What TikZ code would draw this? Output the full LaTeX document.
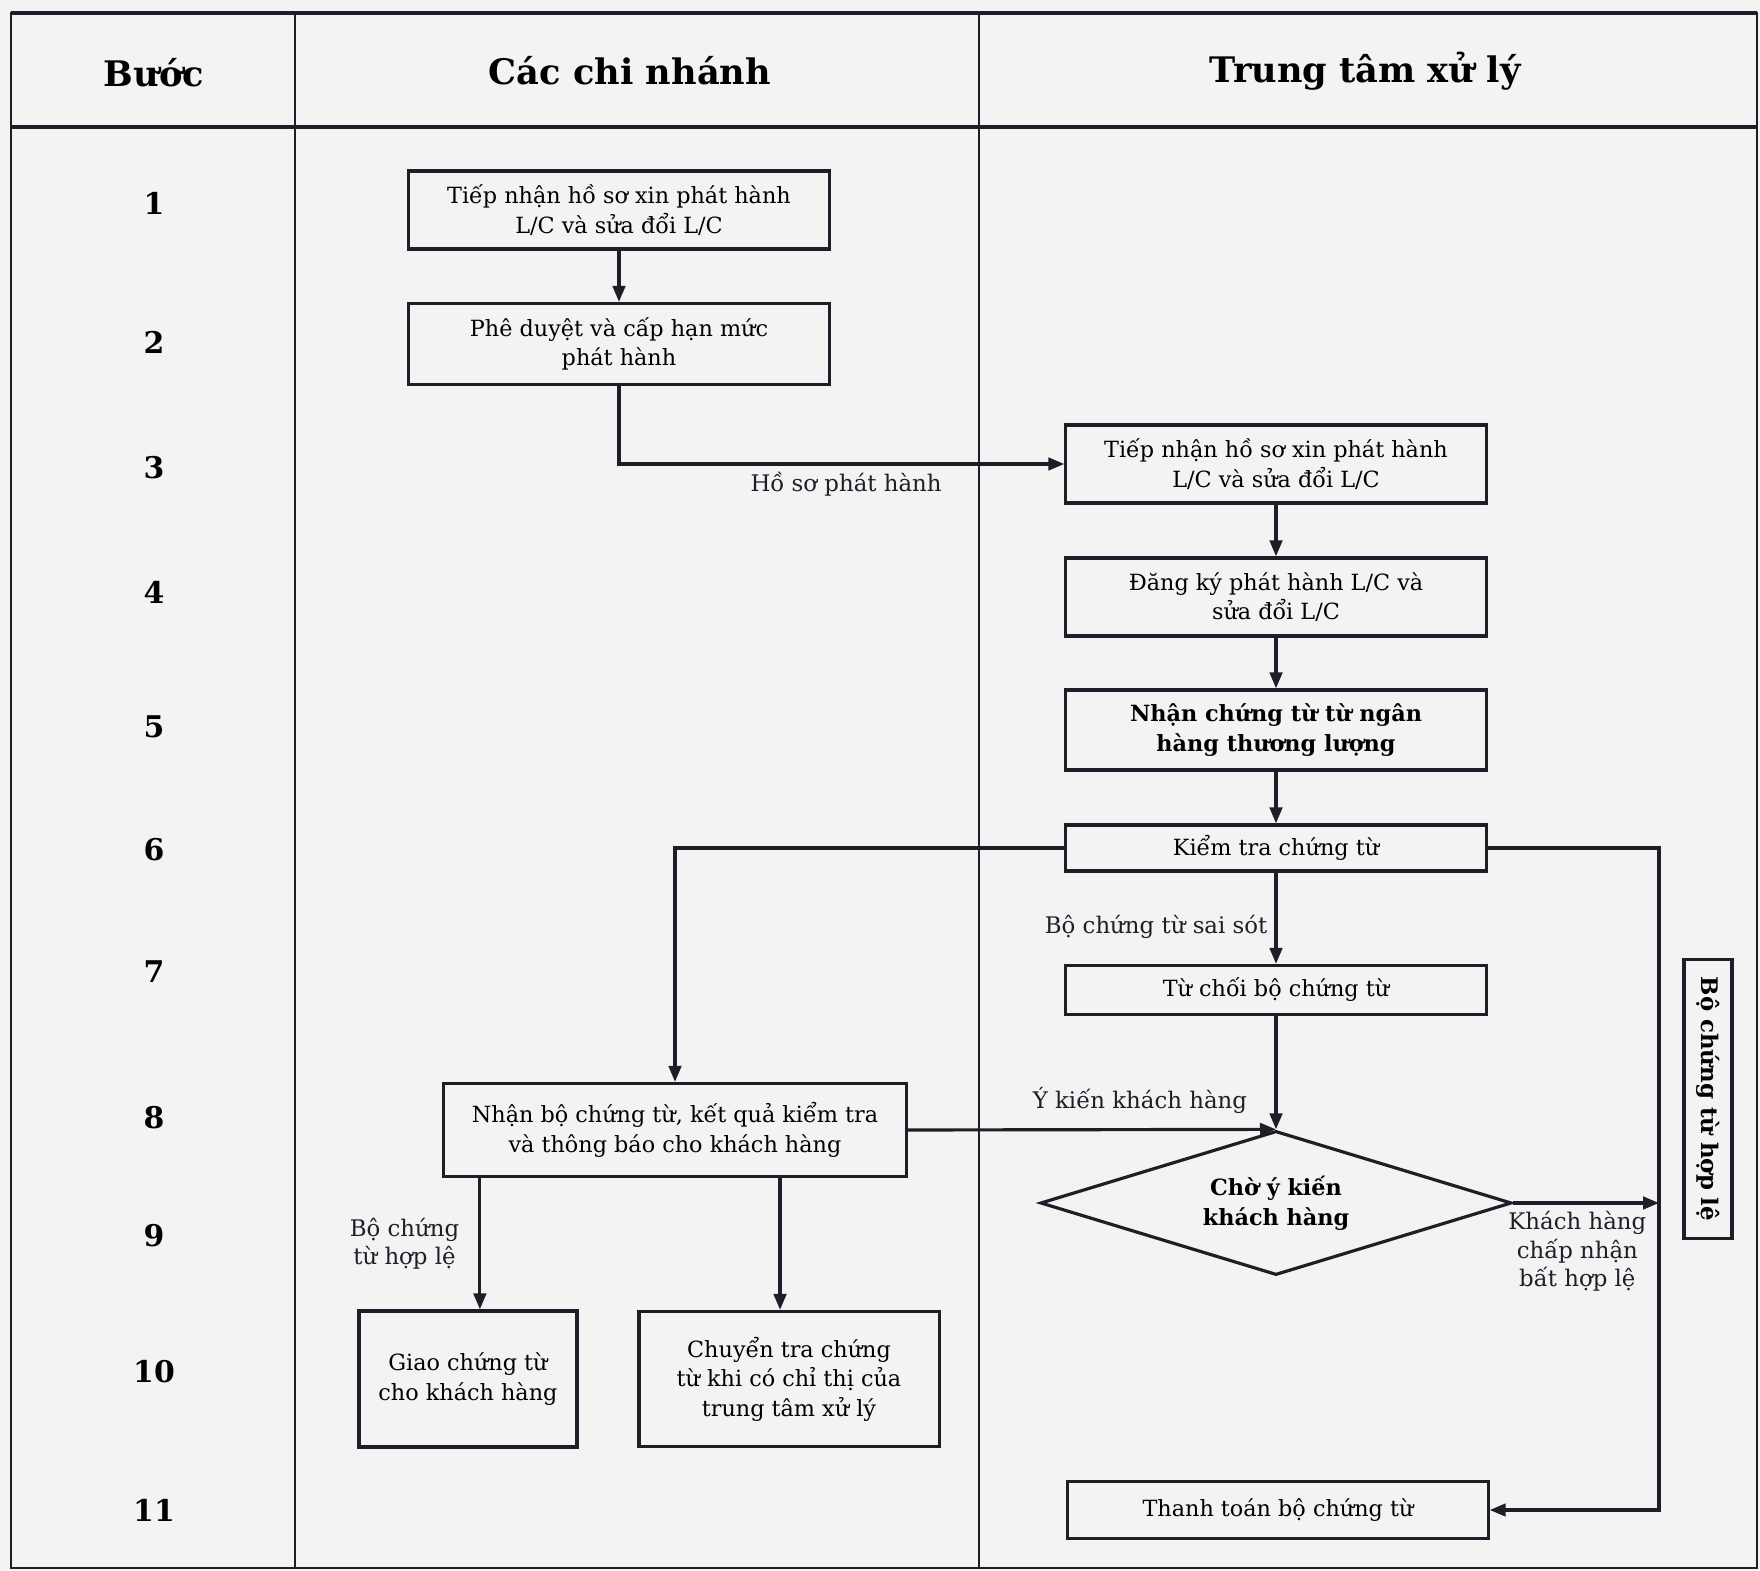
\documentclass[tikz,border=0pt]{standalone}
\usepackage{fontspec}
\setmainfont{DejaVu Serif}
\usetikzlibrary{arrows.meta,positioning,calc,shapes.geometric}
\definecolor{linec}{HTML}{1E1E28}
\definecolor{paperc}{HTML}{F3F3F3}

\begin{document}
\begin{tikzpicture}[x=0.01cm,y=-0.01cm,
      box/.style={draw=linec,line width=0.9pt,minimum width=4.2cm,minimum height=0.78cm,align=center,inner sep=1pt,font=\fontsize{6.35}{8.4}\selectfont},
      head/.style={font=\bfseries\fontsize{10}{12}\selectfont},
      stepnum/.style={font=\bfseries\fontsize{8.5}{10}\selectfont},
      lbl/.style={align=center,inner sep=2pt,font=\fontsize{6.5}{8}\selectfont},
      link/.style={->,linec,line width=0.9pt},
      >={Triangle[length=1.6mm,width=1.25mm]}]
    \fill[paperc] (0,0) rectangle (1760,1571);
    \useasboundingbox (0,0) rectangle (1760,1571);
    % table
    \draw[linec,line width=0.8pt] (11,13) rectangle (1757,1568);
    \draw[linec,line width=1.3pt] (11,13) -- (1757,13) (11,127) -- (1757,127);
    \draw[linec,line width=0.8pt] (295,13) -- (295,1568) (979,13) -- (979,1568);
    \node[head] (hstep) at (154,73) {Bước};
    \node[head] (hbranch) at (630,71) {Các chi nhánh};
    \node[head] (hcenter) at (1365,71) {Trung tâm xử lý};
    \foreach \n/\y in {1/203,2/342,3/468,4/592,5/727,6/850,7/972,8/1118,9/1236,10/1372,11/1510}
      \node[stepnum] (s\n) at (154,\y) {\n};
    % branches
    \node[box] (b1) at (619,210) {Tiếp nhận hồ sơ xin phát hành\\L/C và sửa đổi L/C};
    \node[box,minimum height=0.81cm] (b2) at (619,344) {Phê duyệt và cấp hạn mức\\phát hành};
    \node[box,minimum width=4.63cm,minimum height=0.93cm] (b8) at (675,1130) {Nhận bộ chứng từ, kết quả kiểm tra\\và thông báo cho khách hàng};
    \node[box,minimum width=2.18cm,minimum height=1.36cm] (b9) at (468,1379) {Giao chứng từ\\cho khách hàng};
    \node[box,minimum width=3.0cm,minimum height=1.35cm] (b10) at (789,1379) {Chuyển tra chứng\\từ khi có chỉ thị của\\trung tâm xử lý};
    % processing centre
    \node[box] (b3) at (1276,464) {Tiếp nhận hồ sơ xin phát hành\\L/C và sửa đổi L/C};
    \node[box] (b4) at (1276,597) {Đăng ký phát hành L/C và\\sửa đổi L/C};
    \node[box,minimum height=0.8cm,font=\bfseries\fontsize{6.35}{8.4}\selectfont] (b5) at (1276,730) {Nhận chứng từ từ ngân\\hàng thương lượng};
    \node[box,minimum height=0.46cm] (b6) at (1276,848) {Kiểm tra chứng từ};
    \node[box,minimum height=0.49cm] (b7) at (1276,990) {Từ chối bộ chứng từ};
    \node[draw=linec,line width=0.9pt,diamond,aspect=3.27,minimum width=4.71cm,minimum height=1.44cm,inner sep=0pt,align=center,font=\bfseries\fontsize{6.35}{8.4}\selectfont] (dec) at (1276,1203) {Chờ ý kiến\\khách hàng};
    \node[box,minimum height=0.57cm] (b11) at (1278,1510) {Thanh toán bộ chứng từ};
    \node[box,rotate=-90,minimum width=2.79cm,minimum height=0.48cm,font=\bfseries\fontsize{6.5}{8.4}\selectfont] (valid) at (1708,1099) {Bộ chứng từ hợp lệ};
    \coordinate (rbus) at (1659,848);
    % connectors
    \draw[link] (b1) -- (b2);
    \draw[link] (b2.south) |- node[lbl,pos=0.755,below] {Hồ sơ phát hành} (b3.west);
    \draw[link] (b3) -- (b4);
    \draw[link] (b4) -- (b5);
    \draw[link] (b5) -- (b6);
    \draw[link] (b6) -- node[lbl,pos=0.6,left=0pt] {Bộ chứng từ sai sót} (b7);
    \draw[link] (b7) -- (dec.north);
    \draw[link] (b6.west) -| (b8.north);
    \draw[link] (b6.east) -- (rbus) |- (b11.east);
    \draw[link] (b8.east) -- node[lbl,pos=0.63,above=2pt] {Ý kiến khách hàng} (dec.north);
    \draw[link] (dec.east) -- node[lbl,pos=0.44,below] {Khách hàng\\chấp nhận\\bất hợp lệ} (dec.east -| rbus);
    \draw[link] ([xshift=-1.95cm]b8.south) -- node[lbl,left=0.12cm] {Bộ chứng\\từ hợp lệ} ([xshift=-1.95cm]b8.south |- b9.north);
    \draw[link] ([xshift=1.05cm]b8.south) -- ([xshift=1.05cm]b8.south |- b10.north);
  \end{tikzpicture}
\end{document}
